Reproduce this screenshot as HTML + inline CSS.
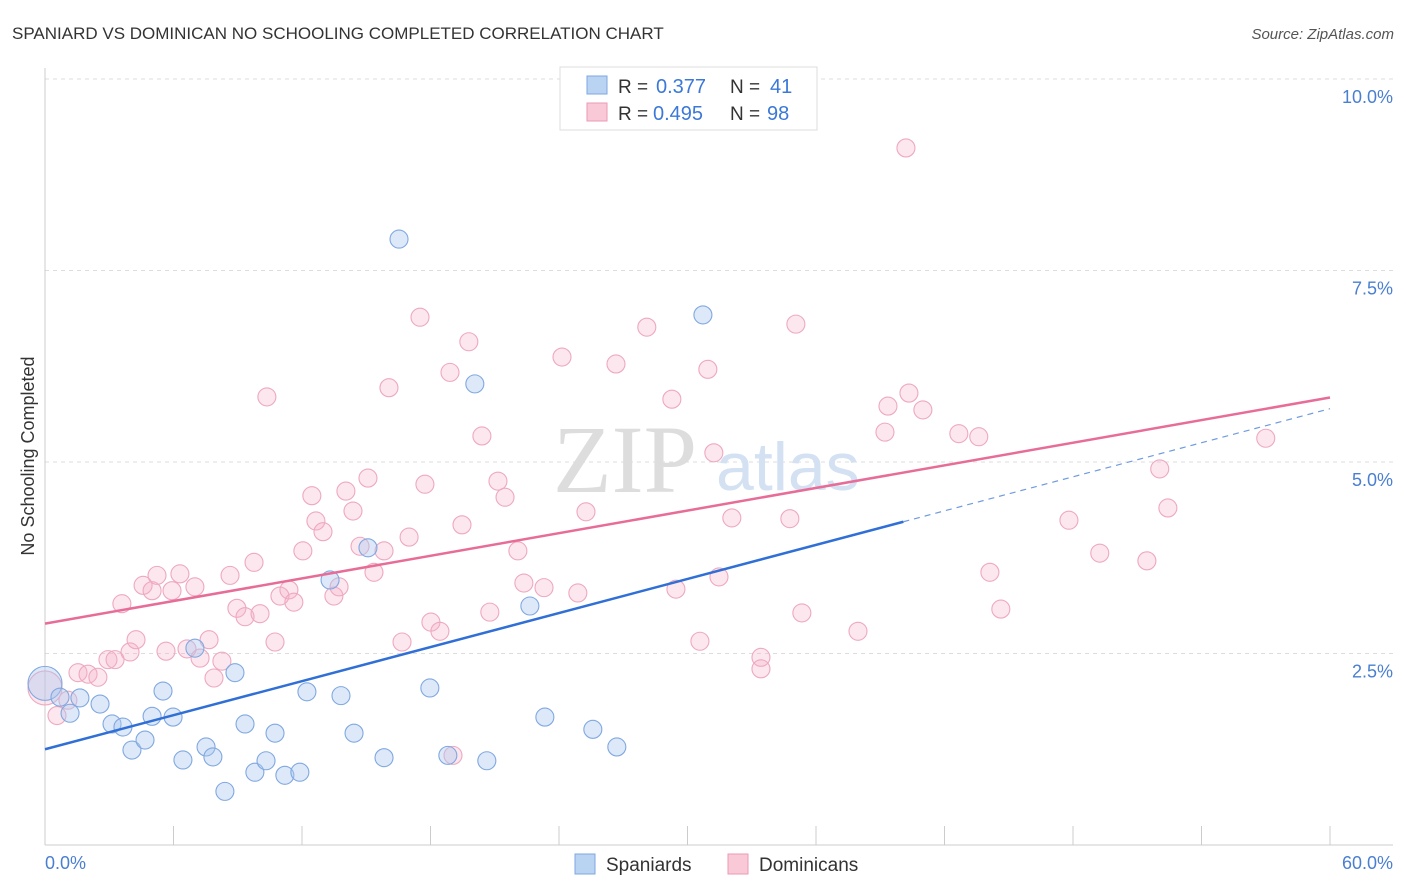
<!DOCTYPE html>
<html><head><meta charset="utf-8">
<style>
body{margin:0;background:#fff;font-family:"Liberation Sans",sans-serif;}
svg{display:block}
</style></head>
<body>
<svg width="1406" height="892" xmlns="http://www.w3.org/2000/svg">
<text x="12" y="39" font-size="17" fill="#333">SPANIARD VS DOMINICAN NO SCHOOLING COMPLETED CORRELATION CHART</text>
<text x="1394" y="39" font-size="15" fill="#555" font-style="italic" text-anchor="end">Source: ZipAtlas.com</text>
<g id="grid"></g>
<g>
<text x="553" y="492" font-size="96" font-family="Liberation Serif,serif" fill="#ddd">ZIP</text>
<text x="716" y="490" font-size="68" fill="#d3e1f3">atlas</text>
</g>
<g id="axes"></g>
<g id="pinkpts"></g>
<g id="bluepts"></g>
<g id="lines"></g>
<text transform="translate(34,456) rotate(-90)" font-size="18" fill="#333" text-anchor="middle">No Schooling Completed</text>
<text x="45" y="869" font-size="18" fill="#4a7fd0">0.0%</text>
<text x="1393" y="869" font-size="18" fill="#4a7fd0" text-anchor="end">60.0%</text>
<g>
<rect x="560" y="67" width="257" height="63" fill="#fff" stroke="#ddd"/>
<rect x="587" y="76" width="20" height="18" fill="#b9d3f3" stroke="#7ea7e0"/>
<rect x="587" y="103" width="20" height="18" fill="#f9c9d8" stroke="#ec9ab5"/>
<text x="618" y="93" font-size="19" fill="#333">R =</text>
<text x="656" y="93" font-size="20" fill="#3b78d8">0.377</text>
<text x="730" y="93" font-size="19" fill="#333">N =</text>
<text x="770" y="93" font-size="20" fill="#3b78d8">41</text>
<text x="618" y="120" font-size="19" fill="#333">R =</text>
<text x="653" y="120" font-size="20" fill="#3b78d8">0.495</text>
<text x="730" y="120" font-size="19" fill="#333">N =</text>
<text x="767" y="120" font-size="20" fill="#3b78d8">98</text>
</g>
<g>
<rect x="575" y="854" width="20" height="20" fill="#b9d3f3" stroke="#7ea7e0"/>
<text x="606" y="871" font-size="19" fill="#333">Spaniards</text>
<rect x="728" y="854" width="20" height="20" fill="#f9c9d8" stroke="#ec9ab5"/>
<text x="759" y="871" font-size="19" fill="#333">Dominicans</text>
</g>
</svg>
<script>
const yTicks=[2.5,5,7.5,10];
const yTickLabels=["2.5%","5.0%","7.5%","10.0%"];
const xTicks=[0,6,12,18,24,30,36,42,48,54,60];
const blueX=[0,0.70,1.17,1.63,2.57,3.13,3.64,4.06,4.67,5.00,5.51,5.98,6.44,7.00,7.52,7.84,8.40,8.87,9.34,9.80,10.32,10.74,11.20,11.90,12.23,13.31,13.82,14.43,15.08,15.83,16.53,17.97,18.81,20.07,20.63,22.64,23.34,25.58,26.70,30.72];
const blueY=[2.11,1.93,1.72,1.92,1.84,1.58,1.54,1.24,1.37,1.68,2.01,1.67,1.11,2.57,1.28,1.15,0.70,2.25,1.58,0.95,1.10,1.46,0.91,0.95,2.00,3.46,1.95,1.46,3.88,1.14,7.91,2.05,1.17,6.02,1.10,3.12,1.67,1.51,1.28,6.92];
const pinkX=[0,0.56,1.07,1.54,2.01,2.47,2.94,3.27,3.59,3.97,4.25,4.58,5.00,5.23,5.65,5.93,6.30,6.63,7.00,7.24,7.66,7.89,8.26,8.64,8.96,9.34,9.76,10.04,10.36,10.74,10.97,11.39,11.62,12.04,12.46,12.65,12.98,13.49,13.73,14.05,14.38,14.71,15.08,15.36,15.83,16.06,16.67,17.00,17.51,17.74,18.02,18.44,18.91,19.05,19.47,19.79,20.40,20.77,21.15,21.48,22.08,22.36,23.30,24.14,24.88,25.26,26.66,28.10,29.27,29.46,30.58,30.95,31.23,31.47,32.07,33.43,33.43,34.78,35.06,35.34,37.96,39.22,39.36,40.20,40.34,40.99,42.67,43.60,44.12,44.63,47.81,49.25,51.45,52.05,52.43,57.00];
const pinkY=[2.05,1.69,1.89,2.25,2.23,2.19,2.42,2.42,3.15,2.52,2.68,3.39,3.32,3.52,2.53,3.32,3.54,2.56,3.37,2.44,2.68,2.18,2.40,3.52,3.09,2.98,3.69,3.02,5.85,2.65,3.25,3.33,3.17,3.84,4.56,4.23,4.09,3.25,3.37,4.62,4.36,3.90,4.79,3.56,3.84,5.97,2.65,4.02,6.89,4.71,2.91,2.79,6.17,1.17,4.18,6.57,5.34,3.04,4.75,4.54,3.84,3.42,3.36,6.37,3.29,4.35,6.28,6.76,5.82,3.34,2.66,6.21,5.12,3.50,4.27,2.45,2.30,4.26,6.80,3.03,2.79,5.39,5.73,9.10,5.90,5.68,5.37,5.33,3.56,3.08,4.24,3.81,3.71,4.91,4.40,5.31];
const blueTrend=[1.25,0.0741];
const blueSolidEnd=40.08;
const pinkTrend=[2.89,0.0492];
const NS="http://www.w3.org/2000/svg";
const X=v=>45+v/60*1285, Y=v=>845-v/2.5*191.5;
function mk(p,t,a){const e=document.createElementNS(NS,t);for(const k in a)e.setAttribute(k,a[k]);p.appendChild(e);return e;}
const grid=document.getElementById('grid');
yTicks.forEach((t,i)=>{
 const l=mk(grid,'line',{x1:45,x2:1393,y1:Y(t),y2:Y(t),stroke:'#ddd','stroke-dasharray':'4,4'});
 
 
 const tx=mk(grid,'text',{x:1393,y:Y(t)+24,'font-size':18,fill:'#4a7fd0','text-anchor':'end'});
 tx.textContent=yTickLabels[i];
 
 
});
const axes=document.getElementById('axes');
const ya=mk(axes,'line',{x1:45,x2:45,y1:68,y2:845,stroke:'#ccc'});


const xa=mk(axes,'line',{x1:45,x2:1393,y1:845,y2:845,stroke:'#ccc'});


xTicks.forEach(t=>{if(t===0)return;
 const l=mk(axes,'line',{x1:X(t),x2:X(t),y1:826,y2:845,stroke:'#ccc'});
 
 
});
function pts(g,xs,ys,fill,stroke,name){
 xs.forEach((x,i)=>{
  const r=(x===0)?17:9;
  const c=mk(g,'circle',{cx:X(x),cy:Y(ys[i]),r:r,fill:fill,stroke:stroke,'stroke-width':1.1});
  
  
 });
}
pts(document.getElementById('pinkpts'),pinkX,pinkY,'rgba(246,176,200,0.3)','#eea8c0','dominican-point');
pts(document.getElementById('bluepts'),blueX,blueY,'rgba(170,200,240,0.4)','#80a8e0','spaniard-point');
const lg=document.getElementById('lines');
const pl=mk(lg,'line',{x1:X(0),y1:Y(pinkTrend[0]),x2:X(60),y2:Y(pinkTrend[0]+pinkTrend[1]*60),stroke:'#e86c98','stroke-width':2.5});


const bl=mk(lg,'line',{x1:X(0),y1:Y(blueTrend[0]),x2:X(blueSolidEnd),y2:Y(blueTrend[0]+blueTrend[1]*blueSolidEnd),stroke:'#2f6fd6','stroke-width':2.5});


const bd=mk(lg,'line',{x1:X(blueSolidEnd),y1:Y(blueTrend[0]+blueTrend[1]*blueSolidEnd),x2:X(60),y2:Y(blueTrend[0]+blueTrend[1]*60),stroke:'#6f9be0','stroke-width':1.2,'stroke-dasharray':'6,5'});


</script>
</body></html>
